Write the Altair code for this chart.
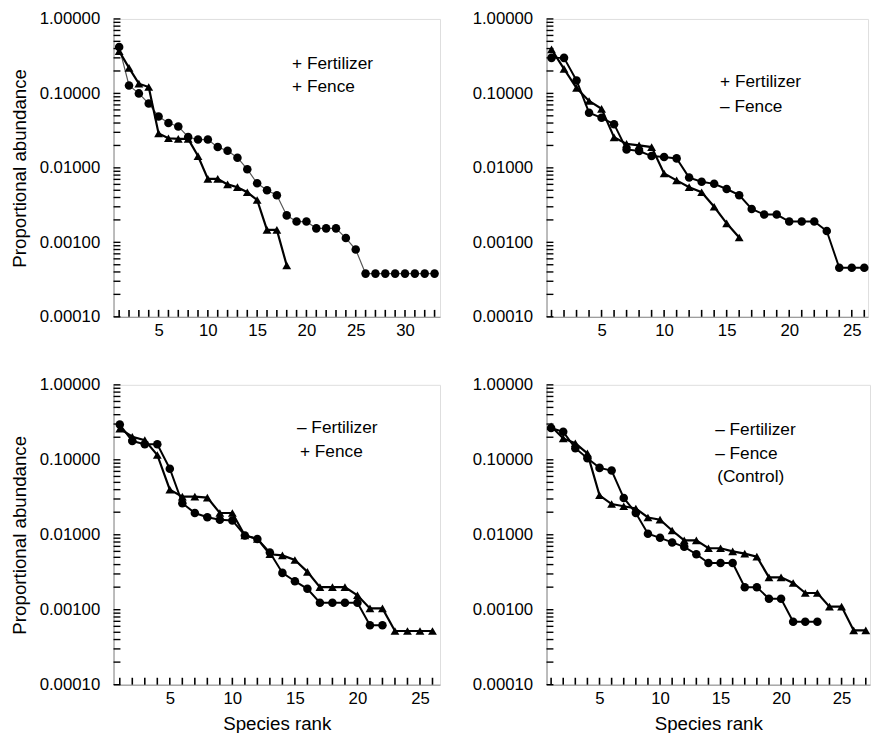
import math
import altair as alt
import pandas as pd

FONT = "Liberation Sans"

# ---- data (proportional abundance by species rank) ----
p1_circle = [0.42, 0.128, 0.100, 0.073, 0.049, 0.040, 0.036, 0.026, 0.024, 0.024,
             0.019, 0.017, 0.0137, 0.0096, 0.0062, 0.0050, 0.0043, 0.0023, 0.0019, 0.0019,
             0.00154, 0.00154, 0.00154, 0.00114, 0.00080, 0.00038, 0.00038, 0.00038, 0.00038,
             0.00038, 0.00038, 0.00038, 0.00038]
p1_triangle = [0.37, 0.22, 0.135, 0.122, 0.029, 0.025, 0.0245, 0.0245, 0.0144, 0.0071,
               0.0071, 0.0060, 0.0055, 0.0047, 0.0037, 0.00147, 0.00147, 0.00049]

p2_circle = [0.30, 0.30, 0.149, 0.055, 0.047, 0.0386, 0.0177, 0.0168, 0.0144, 0.0140,
             0.0134, 0.0074, 0.0065, 0.0061, 0.0052, 0.0043, 0.0028, 0.00236, 0.00236, 0.0019,
             0.0019, 0.0019, 0.00142, 0.000455, 0.000455, 0.000455]
p2_triangle = [0.39, 0.213, 0.118, 0.079, 0.062, 0.0257, 0.021, 0.020, 0.019, 0.0084,
               0.0068, 0.0055, 0.0047, 0.0030, 0.0018, 0.00116]

p3_circle = [0.295, 0.178, 0.161, 0.161, 0.076, 0.0264, 0.0195, 0.0171, 0.0159, 0.0155,
             0.0098, 0.0088, 0.0058, 0.0031, 0.0024, 0.0019, 0.00124, 0.00124, 0.00124, 0.00124,
             0.00062, 0.00062]
p3_triangle = [0.26, 0.203, 0.183, 0.116, 0.040, 0.0323, 0.0323, 0.0313, 0.0195, 0.0195,
               0.0098, 0.0088, 0.0055, 0.0053, 0.0046, 0.0032, 0.0020, 0.0020, 0.0020, 0.00156,
               0.00104, 0.00104, 0.00052, 0.00052, 0.00052, 0.00052]

p4_circle = [0.266, 0.236, 0.143, 0.105, 0.078, 0.072, 0.031, 0.0195, 0.0103, 0.0091,
             0.0079, 0.0069, 0.0055, 0.0042, 0.0042, 0.0042, 0.0020, 0.0020, 0.0014, 0.0014,
             0.00069, 0.00069, 0.00069]
p4_triangle = [0.28, 0.193, 0.166, 0.122, 0.0336, 0.0257, 0.024, 0.0224, 0.017, 0.0159,
               0.0114, 0.0084, 0.0084, 0.0066, 0.0066, 0.0060, 0.0056, 0.0051, 0.0027, 0.0027,
               0.00227, 0.00167, 0.00167, 0.0011, 0.0011, 0.00053, 0.00053]

p1_labels = ["+ Fertilizer", "+ Fence"]
p2_labels = ["+ Fertilizer", "\u2013 Fence"]
p3_labels = ["\u2013 Fertilizer", "+ Fence"]
p4_labels = ["\u2013 Fertilizer", "\u2013 Fence", "(Control)"]

y_major = [0.0001, 0.001, 0.01, 0.1, 1.0]
y_minor = [m * d for d in [0.0001, 0.001, 0.01, 0.1] for m in range(2, 10)]
x_label_step = 5
Y_MIN, Y_MAX = 0.0001, 1.0
TICK_PX = 7


def panel(circ, tri, xmin, xmax, w, h, labels, lab_x, lab_y, lab_dy, lab_dx=None,
          circ_width=2.0, circ_color="black", ytitle=None, xtitle=None):
    dc = pd.DataFrame({"rank": list(range(1, len(circ) + 1)), "abund": circ})
    dt = pd.DataFrame({"rank": list(range(1, len(tri) + 1)), "abund": tri})
    xscale = alt.Scale(domain=[xmin, xmax], nice=False, zero=False)
    yscale = alt.Scale(type="log", domain=[Y_MIN, Y_MAX], nice=False)
    xaxis = alt.Axis(values=list(range(x_label_step, int(xmax) + 1, x_label_step)),
                     ticks=False, grid=False, title=xtitle, labelPadding=6,
                     titlePadding=8, labelFontSize=17, titleFontSize=19,
                     titleFontWeight="normal")
    yaxis = alt.Axis(values=y_major, format=".5f", ticks=False, grid=False,
                     title=ytitle, labelPadding=14, titlePadding=10,
                     labelFontSize=17, titleFontSize=19, titleFontWeight="normal")
    X = alt.X("rank:Q", scale=xscale, axis=xaxis)
    Y = alt.Y("abund:Q", scale=yscale, axis=yaxis)

    lc = alt.Chart(dc).mark_line(color=circ_color, strokeWidth=circ_width).encode(x=X, y=Y)
    pc = alt.Chart(dc).mark_point(shape="circle", filled=True, size=75, color="black",
                                  opacity=1).encode(x=X, y=Y)
    lt = alt.Chart(dt).mark_line(color="black", strokeWidth=2.2).encode(x=X, y=Y)
    pt = alt.Chart(dt).mark_point(shape="triangle-up", filled=True, size=80,
                                  color="black", opacity=1).encode(x=X, y=Y)

    # inward-pointing axis ticks (lengths converted to data units of each scale)
    decades = math.log10(Y_MAX / Y_MIN)
    y_tick_top = Y_MIN * 10 ** (TICK_PX / h * decades)
    x_tick_end = xmin + TICK_PX / w * (xmax - xmin)
    xt = pd.DataFrame({"rank": list(range(math.ceil(xmin), math.floor(xmax) + 1))})
    xticks = alt.Chart(xt).mark_rule(color="black", strokeWidth=1.6).encode(
        x=X, y=alt.datum(Y_MIN), y2=alt.datum(y_tick_top))
    ytm = pd.DataFrame({"abund": y_major + y_minor})
    yticks = alt.Chart(ytm).mark_rule(color="black", strokeWidth=1.4).encode(
        y=Y, x=alt.datum(xmin), x2=alt.datum(x_tick_end))

    layers = [lc, lt, pc, pt, xticks, yticks]
    for i, t in enumerate(labels):
        dx = 0 if lab_dx is None else lab_dx[i]
        txt = alt.Chart(pd.DataFrame({"t": [t]})).mark_text(
            align="left", baseline="middle", fontSize=17.5, font=FONT, color="black"
        ).encode(text="t:N", x=alt.value(lab_x + dx), y=alt.value(lab_y + i * lab_dy))
        layers.append(txt)
    return alt.layer(*layers).properties(width=w, height=h)


c1 = panel(p1_circle, p1_triangle, 0.43, 33.55, 331, 302, p1_labels, 181, 46, 23,
           circ_width=1.2, circ_color="#555555", ytitle="Proportional abundance")
c2 = panel(p2_circle, p2_triangle, 0.6, 26.3, 326, 302, p2_labels, 176, 64, 25)
c3 = panel(p3_circle, p3_triangle, 0.5, 26.6, 331, 304, p3_labels, 186, 44, 24,
           lab_dx=[0, 3], ytitle="Proportional abundance", xtitle="Species rank")
c4 = panel(p4_circle, p4_triangle, 0.62, 27.35, 328, 304, p4_labels, 171, 46, 24,
           lab_dx=[0, 0, 2], xtitle="Species rank")

top = alt.hconcat(c1, c2, spacing=31)
bottom = alt.hconcat(c3, c4, spacing=31)
chart = alt.vconcat(top, bottom, spacing=36).properties(
    padding={"left": 2, "top": -4, "right": 0, "bottom": 0}
).configure_view(
    stroke="black", strokeWidth=2
).configure_axis(
    domainColor="black", domainWidth=2.5, labelColor="black", titleColor="black",
    labelFont=FONT, titleFont=FONT
).configure(background="white")

chart.save("out.html", embed_options={"renderer": "svg", "actions": False})
